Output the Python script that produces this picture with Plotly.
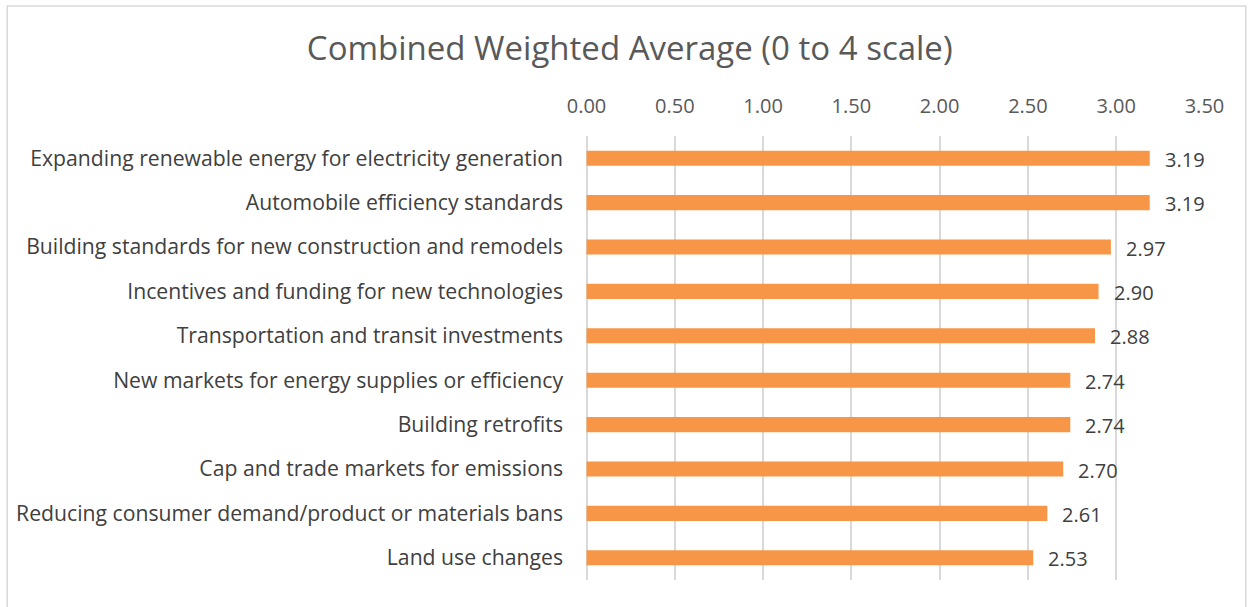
import plotly.graph_objects as go

categories = [
    "Expanding renewable energy for electricity generation",
    "Automobile efficiency standards",
    "Building standards for new construction and remodels",
    "Incentives and funding for new technologies",
    "Transportation and transit investments",
    "New markets for energy supplies or efficiency",
    "Building retrofits",
    "Cap and trade markets for emissions",
    "Reducing consumer demand/product or materials bans",
    "Land use changes",
]
values = [3.19, 3.19, 2.97, 2.90, 2.88, 2.74, 2.74, 2.70, 2.61, 2.53]
tick_vals = [0, 0.5, 1.0, 1.5, 2.0, 2.5, 3.0, 3.5]

font_family = "Open Sans, Lato, sans-serif"
bar_color = '#F79646'
grid_color = '#D9D9D9'

fig = go.Figure()
fig.add_trace(go.Bar(
    x=values, y=categories, orientation='h',
    marker=dict(color=bar_color, line=dict(width=0)),
    width=0.34,
))

# data labels beside each bar
for cat, val in zip(categories, values):
    fig.add_annotation(x=val, y=cat, text=f"{val:.2f}", showarrow=False,
                       xanchor='left', yanchor='middle', xshift=13, yshift=-1,
                       font=dict(family=font_family, size=20, color='#404040'))

# light frame around the whole chart
fig.add_shape(type='rect', xref='paper', yref='paper',
              x0=-0.935, x1=1.066, y0=-0.07, y1=1.293,
              line=dict(color='#D9D9D9', width=1.5), fillcolor='rgba(0,0,0,0)')

fig.update_xaxes(side='top', range=[-0.003, 3.503], tickvals=tick_vals,
                 tickformat='.2f', showgrid=True, gridcolor=grid_color,
                 gridwidth=1.5, zeroline=True, zerolinecolor=grid_color,
                 zerolinewidth=1.5, showline=False,
                 ticklabelstandoff=18,
                 tickfont=dict(family=font_family, size=20, color='#595959'))
fig.update_yaxes(autorange='reversed', showgrid=False, showline=False,
                 ticklabelstandoff=22,
                 tickfont=dict(family=font_family, size=21.2, color='#404040'))

fig.update_layout(
    width=1252, height=607,
    margin=dict(l=586, r=47, t=136, b=27),
    plot_bgcolor='white', paper_bgcolor='white',
    showlegend=False,
    title=dict(text="Combined Weighted Average (0 to 4 scale)",
               x=0.503, xanchor='center', y=0.92, yanchor='middle',
               font=dict(family=font_family, size=33, color='#595959')),
)

fig.write_html("out.html", config={'displayModeBar': False},
               post_script="document.body.style.margin='0';")
